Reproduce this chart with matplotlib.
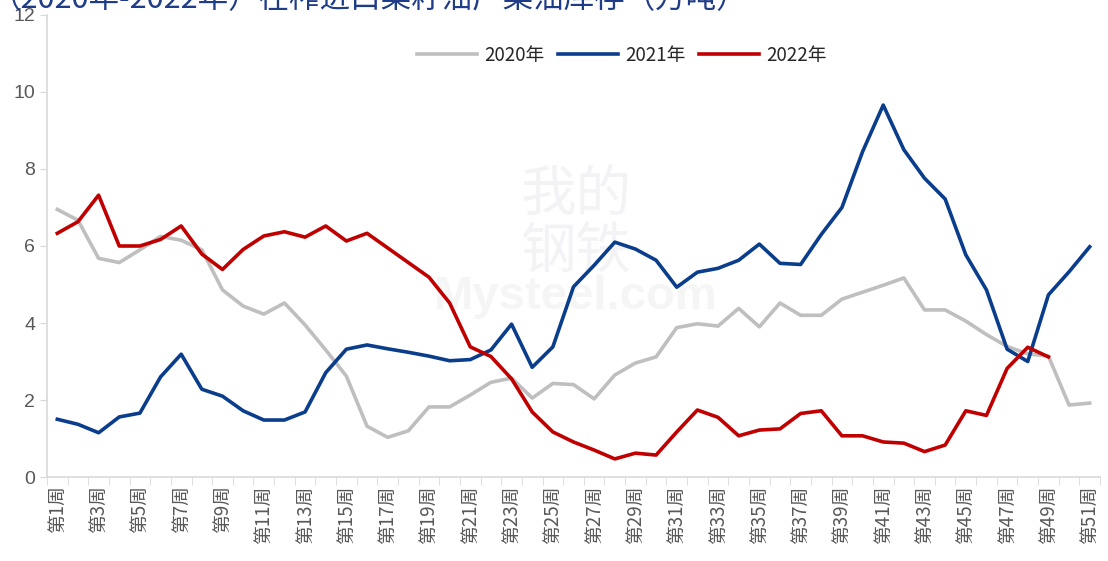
import numpy as np
import matplotlib
matplotlib.use('Agg')
import matplotlib.pyplot as plt
from matplotlib.ticker import FixedLocator

weeks = ['第%d周' % w for w in range(1, 52)]

y2020 = [6.95, 6.67, 5.68, 5.57, 5.9, 6.25, 6.15, 5.9, 4.86, 4.44,
         4.23, 4.52, 3.95, 3.3, 2.62, 1.32, 1.03, 1.2, 1.82, 1.82,
         2.13, 2.46, 2.57, 2.05, 2.43, 2.4, 2.03, 2.65, 2.96, 3.12,
         3.88, 3.98, 3.92, 4.38, 3.9, 4.52, 4.2, 4.2, 4.62, 4.8,
         4.98, 5.17, 4.34, 4.34, 4.05, 3.7, 3.39, 3.2, 3.14, 1.87, 1.92]

y2021 = [1.5, 1.37, 1.15, 1.56, 1.66, 2.6, 3.19, 2.28, 2.1, 1.72,
         1.48, 1.48, 1.69, 2.71, 3.32, 3.43, 3.33, 3.24, 3.14, 3.02,
         3.05, 3.3, 3.97, 2.85, 3.38, 4.94, 5.5, 6.1, 5.92, 5.63,
         4.93, 5.32, 5.42, 5.63, 6.05, 5.55, 5.52, 6.3, 7.0, 8.45,
         9.66, 8.5, 7.76, 7.22, 5.77, 4.86, 3.32, 3.0, 4.73, 5.33, 5.98]

y2022 = [6.33, 6.63, 7.32, 6.0, 6.0, 6.17, 6.52, 5.79, 5.39, 5.91,
         6.26, 6.37, 6.23, 6.52, 6.13, 6.33, 5.95, 5.57, 5.19, 4.52,
         3.38, 3.13, 2.55, 1.69, 1.17, 0.91, 0.7, 0.47, 0.62, 0.57,
         1.17, 1.74, 1.55, 1.07, 1.22, 1.25, 1.65, 1.72, 1.07, 1.07,
         0.91, 0.88, 0.66, 0.83, 1.72, 1.6, 2.82, 3.37, 3.12]

title = '（2020年-2022年）在榨进口菜籽油厂菜油库存（万吨）'

plt.rcParams['font.family'] = ['Liberation Sans', 'Noto Sans CJK SC', 'DejaVu Sans']
cjk = ['Noto Sans CJK SC', 'DejaVu Sans']

fig = plt.figure(figsize=(11.08, 5.61), dpi=100)
ax = fig.add_axes([0.0424, 0.1497, 0.9504, 0.8236])

# faint watermark, behind the lines
ax.text(0.52, 0.60, '我的\n钢铁', fontsize=40, color='#F3F3F6', ha='center', va='center',
        family=cjk, zorder=0, linespacing=1.0, transform=fig.transFigure)
ax.text(0.52, 0.47, 'Mysteel.com', fontsize=34, color='#F5F5F5', ha='center', va='center',
        fontweight='bold', zorder=0, transform=fig.transFigure)

x = np.arange(len(weeks))
ax.plot(x, y2020, color='#BFBFBF', lw=2.6, label='2020年', solid_joinstyle='round')
ax.plot(x[:len(y2021)], y2021, color='#0A3D8C', lw=2.6, label='2021年', solid_joinstyle='round')
ax.plot(x[:len(y2022)], y2022, color='#C00000', lw=2.6, label='2022年', solid_joinstyle='round')

ax.set_xlim(-0.5, len(weeks) - 0.5)
ax.set_ylim(0, 12)
ax.set_yticks(range(0, 13, 2))
ax.tick_params(axis='y', labelsize=14, labelcolor='#595959', color='#D9D9D9', length=5)

ax.set_xticks(x[::2])
ax.set_xticklabels(weeks[::2], rotation=90, fontsize=13.5, color='#595959', family=cjk)
ax.xaxis.set_minor_locator(FixedLocator(np.arange(-0.5, len(weeks), 1)))
ax.tick_params(axis='x', which='major', length=0, pad=6)
ax.tick_params(axis='x', which='minor', length=6, color='#D9D9D9')

for s in ['top', 'right']:
    ax.spines[s].set_visible(False)
for s in ['left', 'bottom']:
    ax.spines[s].set_color('#D9D9D9')
    ax.spines[s].set_linewidth(1.2)

leg = ax.legend(loc='center', bbox_to_anchor=(0.546, 0.913), ncol=3, frameon=False,
                prop={'family': cjk, 'size': 13.5}, handlelength=3.2, columnspacing=0.7,
                handletextpad=0.4)
for t in leg.get_texts():
    t.set_color('#262626')

fig.text(-0.008, 1.0, title, fontsize=22, color='#1F3C88', ha='left', va='center', family=cjk)

fig.savefig('out.png', dpi=100)
